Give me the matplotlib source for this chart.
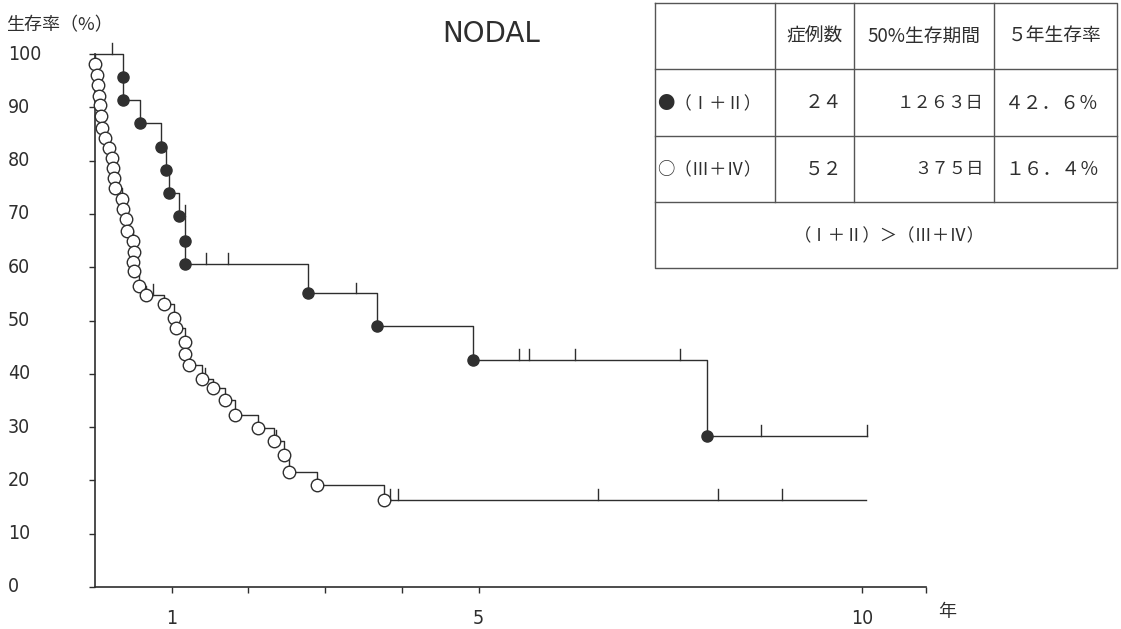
import numpy as np
import matplotlib
matplotlib.use('Agg')
import matplotlib.pyplot as plt
from matplotlib import transforms

#%% data (time in years, survival in %)
# stage I+II, closed dots
early_t = [0.36, 0.36, 0.59, 0.86, 0.93, 0.97, 1.10, 1.17, 1.17, 2.78, 3.68, 4.93, 7.98]
early_s = [95.6, 91.3, 87.0, 82.6, 78.3, 73.9, 69.6, 65.0, 60.6, 55.1, 49.0, 42.6, 28.4]
early_cens = [0.22, 1.17, 1.45, 1.73, 3.40, 5.53, 5.66, 6.26, 7.63, 8.68, 10.07]
early_end = 10.07

# stage III+IV, open circles
late_t = [0.00, 0.03, 0.035, 0.05, 0.065, 0.08, 0.09, 0.13, 0.18, 0.22,
          0.24, 0.25, 0.265, 0.35, 0.37, 0.41, 0.42, 0.50, 0.51, 0.50,
          0.51, 0.58, 0.66, 0.90, 1.03, 1.05, 1.17, 1.17, 1.22, 1.39,
          1.54, 1.69, 1.82, 2.12, 2.34, 2.46, 2.53, 2.90, 3.77]
late_s = [98.1, 96.1, 94.1, 92.2, 90.4, 88.3, 86.1, 84.2, 82.3, 80.4,
          78.6, 76.7, 74.8, 72.8, 70.9, 69.0, 66.8, 64.9, 62.9, 61.0,
          59.2, 56.5, 54.8, 53.1, 50.4, 48.5, 46.0, 43.7, 41.7, 39.1,
          37.3, 35.0, 32.3, 29.9, 27.4, 24.8, 21.6, 19.1, 16.4]
late_cens = [0.75, 1.44, 2.36, 3.84, 3.95, 6.56, 8.12, 8.96]
late_end = 10.05

# summary table
groups = ['●（Ⅰ＋Ⅱ）', '○（Ⅲ＋Ⅳ）']
n_cases = [24, 52]
median_days = [1263, 375]
five_year = [42.6, 16.4]
headers = ['症例数', '50%生存期間', '５年生存率']
comparison = '（Ⅰ＋Ⅱ）＞（Ⅲ＋Ⅳ）'

y_ticks = list(range(0, 101, 10))
x_ticks = [1, 2, 3, 4, 5, 10, 10.84]
x_labels = ['1', '', '', '', '5', '10', '']

#%% setup
W, H = 1121, 629
JP = ['Noto Sans CJK JP', 'DejaVu Sans']
NUM = dict(family=['DejaVu Sans'], fontstretch='condensed', fontsize=14)
INK = '#2e2e2e'
FULL = str.maketrans('0123456789.%', '０１２３４５６７８９．％')


def px(x, y):
    return x / W, 1 - y / H


def level_before(ts, ss, t):
    # survival just before time t
    k = np.searchsorted(ts, t, side='left')
    return 100.0 if k == 0 else ss[k - 1]


fig = plt.figure(figsize=(W / 100, H / 100), dpi=100)
ax = fig.add_axes([95 / W, 42 / H, 10.84 * 76.7 / W, 533 / H])
ax.set_xlim(0, 10.84)
ax.set_ylim(0, 100)
for side in ('top', 'right'):
    ax.spines[side].set_visible(False)
for side in ('left', 'bottom'):
    ax.spines[side].set_linewidth(1.2)
    ax.spines[side].set_color(INK)

ax.set_xticks(x_ticks)
ax.set_xticklabels(x_labels, color=INK, **NUM)
ax.set_yticks(y_ticks)
ax.set_yticklabels([])
ax.tick_params(axis='x', direction='out', length=4, width=1.0, color=INK, pad=12)
ax.tick_params(axis='y', direction='out', length=4, width=1.0, color=INK)

# y labels sit flush left at the page edge
tr = transforms.blended_transform_factory(fig.transFigure, ax.transData)
for v in y_ticks:
    ax.text(8 / W, v, str(v), transform=tr, ha='left', va='center', color=INK, **NUM)


def km_curve(ts, ss, cens, end, filled):
    ts = np.array(ts)
    ss = np.array(ss)
    tt = np.concatenate([[0], ts, [end]])
    yy = np.concatenate([[100], ss, [ss[-1]]])
    ax.step(tt, yy, where='post', color=INK, lw=1.0, zorder=2, clip_on=False)
    for c in cens:
        lv = level_before(ts, ss, c)
        ax.plot([c, c], [lv, lv + 2.0], color=INK, lw=1.0, zorder=2, clip_on=False)
    if filled:
        ax.plot(ts, ss, 'o', ms=8, mfc='#303030', mec='#303030', zorder=3, clip_on=False)
    else:
        ax.plot(ts, ss, 'o', ms=9, mfc='white', mec=INK, mew=1.0, zorder=3, clip_on=False)


km_curve(early_t, early_s, early_cens, early_end, True)
km_curve(late_t, late_s, late_cens, late_end, False)

#%% labels
fig.text(*px(6, 25), '生存率（%）', family=JP, fontsize=13, color=INK, ha='left', va='center')
fig.text(*px(947, 612), '年', family=JP, fontsize=13, color=INK, ha='center', va='center')
fig.text(*px(491, 34), 'NODAL', family=['DejaVu Sans'], fontsize=20, color=INK,
         ha='center', va='center')

#%% table
L, R, T, B = 655, 1117, 3, 268
rows_y = [69, 136, 202]
cols_x = [775, 854, 994]
lc = '#555555'
fig.add_artist(plt.Line2D(*zip(px(L, T), px(R, T), px(R, B), px(L, B), px(L, T)),
                          color=lc, lw=1.0))
for y in rows_y:
    fig.add_artist(plt.Line2D(*zip(px(L, y), px(R, y)), color=lc, lw=1.0))
for x in cols_x:
    fig.add_artist(plt.Line2D(*zip(px(x, T), px(x, rows_y[-1])), color=lc, lw=1.0))

fs = 12.5
for x, h in zip([814, 924, 1055], headers):
    fig.text(*px(x, 36), h, family=JP, fontsize=13.5, color=INK, ha='center', va='center')
for i, yc in enumerate([103, 169]):
    fig.text(*px(657, yc), groups[i], family=JP, fontsize=fs, color=INK, ha='left', va='center')
    fig.text(*px(842, yc), str(n_cases[i]).translate(FULL), family=JP, fontsize=13.5,
             color=INK, ha='right', va='center')
    fig.text(*px(984, yc), str(median_days[i]).translate(FULL) + '日', family=JP,
             fontsize=fs, color=INK, ha='right', va='center')
    fig.text(*px(1052, yc), f'{five_year[i]:.1f}%'.translate(FULL), family=JP,
             fontsize=13.5, color=INK, ha='center', va='center')
fig.text(*px(889, 236), comparison, family=JP, fontsize=fs, color=INK,
         ha='center', va='center')

fig.savefig('out.png', dpi=100, facecolor='white')
